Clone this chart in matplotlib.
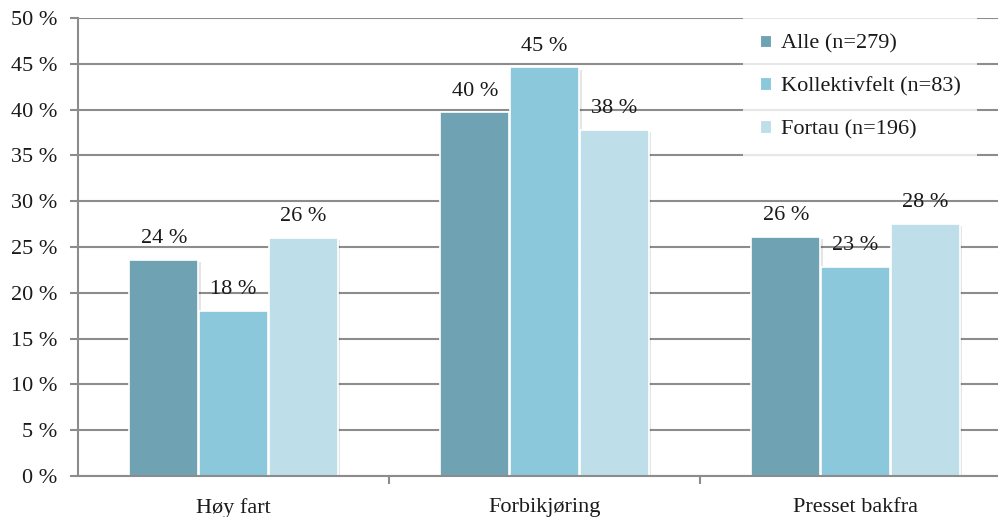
import matplotlib
matplotlib.use("Agg")
import matplotlib.pyplot as plt
import matplotlib.patheffects as pe
from matplotlib.patches import Patch
from matplotlib.ticker import FixedLocator
import numpy as np

categories = ["Høy fart", "Forbikjøring", "Presset bakfra"]
series_names = ["Alle (n=279)", "Kollektivfelt (n=83)", "Fortau (n=196)"]
alle = [23.6, 39.7, 26.1]
kollektivfelt = [18.0, 44.6, 22.8]
fortau = [26.0, 37.8, 27.5]
y_ticks = list(range(0, 55, 5))

colors = ["#6FA3B4", "#8BC8DB", "#BEDFE9"]
grid_col = "#8C8C8C"
text_col = "#1a1a1a"
fs = 16

plt.rcParams["font.family"] = ["Liberation Serif", "DejaVu Serif"]

fig = plt.figure(figsize=(9.98, 5.17), dpi=100)
ax = fig.add_axes([78 / 998, 1 - 476 / 517, 933 / 998, 458 / 517])

x = np.arange(len(categories))
width = 0.222
offsets = [-0.224, 0.0, 0.224]
shadow = [pe.SimplePatchShadow(offset=(2, -1.5), shadow_rgbFace="#000000", alpha=0.10), pe.Normal()]

for vals, off, col in zip([alle, kollektivfelt, fortau], offsets, colors):
    bars = ax.bar(x + off, vals, width=width, color=col, edgecolor="white",
                  linewidth=1.2, zorder=3)
    for b in bars:
        b.set_path_effects(shadow)
    for xi, v in zip(x + off, vals):
        ax.annotate(f"{v:.0f} %", (xi, v), xytext=(0, 8.5), textcoords="offset points",
                    ha="center", va="bottom", fontsize=fs, color=text_col, zorder=5)

ax.set_xlim(-0.5, 2.5)
ax.set_ylim(0, 50)
ax.yaxis.set_major_locator(FixedLocator(y_ticks))
ax.set_yticklabels([f"{t} %" for t in y_ticks])
ax.set_xticks(x)
ax.set_xticklabels(categories)
ax.xaxis.set_minor_locator(FixedLocator([0.5, 1.5]))
ax.tick_params(axis="x", which="major", length=0, pad=16, labelsize=fs, labelcolor=text_col)
ax.tick_params(axis="x", which="minor", length=6, width=1.5, color=grid_col)
ax.tick_params(axis="y", length=6, width=1.5, color=grid_col, labelsize=fs,
               labelcolor=text_col, pad=9)

ax.grid(axis="y", color=grid_col, linewidth=1.5, zorder=0)
ax.set_axisbelow(True)
for s in ["top", "right"]:
    ax.spines[s].set_visible(False)
for s in ["left", "bottom"]:
    ax.spines[s].set_color(grid_col)
    ax.spines[s].set_linewidth(1.5)
ax.spines["bottom"].set_zorder(4)

handles = [Patch(facecolor=c, edgecolor="white", linewidth=0.8) for c in colors]
leg = fig.legend(handles, series_names, loc="upper left",
                 bbox_to_anchor=(743 / 998, 1 - 18 / 517), frameon=True, fancybox=False,
                 fontsize=fs, handlelength=0.5, handleheight=0.5, handletextpad=0.45,
                 labelspacing=1.05, borderpad=0.75, borderaxespad=0)
leg.get_frame().set_facecolor("white")
leg.get_frame().set_edgecolor("white")
leg.get_frame().set_linewidth(0)
leg.set_zorder(6)
for t in leg.get_texts():
    t.set_color(text_col)

fig.savefig("out.png", dpi=100)
